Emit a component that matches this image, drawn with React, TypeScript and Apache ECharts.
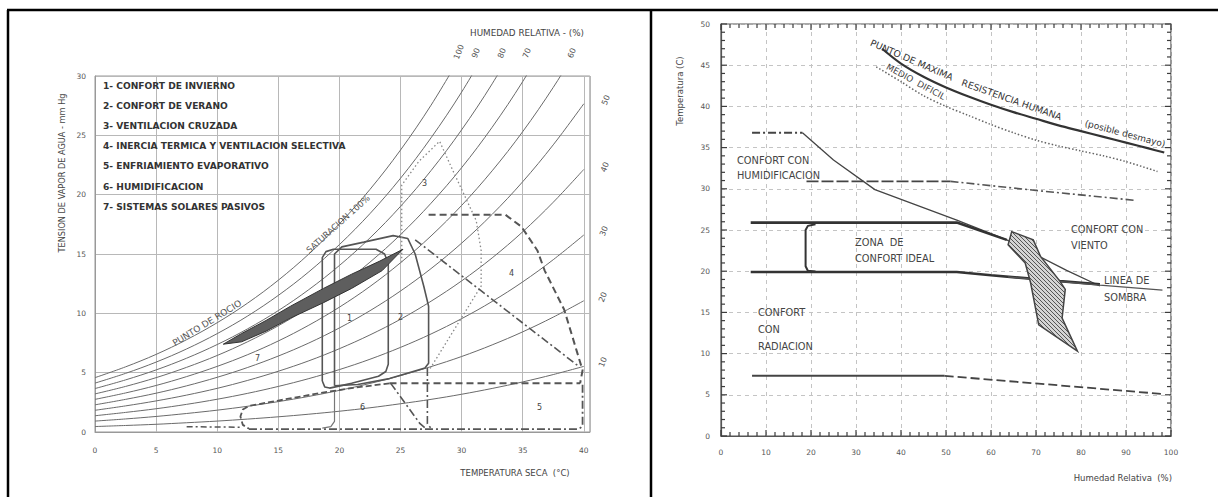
import React, { useEffect, useRef } from "react";
import * as echarts from "echarts";

// ---------- LEFT CHART DATA (psychrometric) ----------
const satTemps = [0, 2.5, 5, 7.5, 10, 12.5, 15, 17.5, 20, 22.5, 25, 27.5, 30, 32.5, 35, 37.5, 40];
const rh10 = [0.46, 0.55, 0.65, 0.78, 0.92, 1.09, 1.28, 1.5, 1.75, 2.04, 2.38, 2.75, 3.18, 3.67, 4.22, 4.84, 5.53];
const rh20 = [0.92, 1.1, 1.31, 1.56, 1.84, 2.17, 2.56, 3.0, 3.51, 4.09, 4.75, 5.51, 6.36, 7.34, 8.44, 9.68, 11.06];
const rh30 = [1.37, 1.65, 1.96, 2.33, 2.76, 3.26, 3.84, 4.5, 5.26, 6.13, 7.13, 8.26, 9.55, 11.0, 12.65, 14.52, 16.6];
const rh40 = [1.83, 2.2, 2.62, 3.11, 3.68, 4.35, 5.12, 6.0, 7.02, 8.18, 9.5, 11.02, 12.73, 14.67, 16.87, 19.36, 22.13];
const rh50 = [2.29, 2.75, 3.27, 3.89, 4.61, 5.44, 6.4, 7.5, 8.77, 10.22, 11.88, 13.77, 15.91, 18.34, 21.09, 24.2, 27.66];
const rh60 = [2.75, 3.29, 3.92, 4.67, 5.53, 6.52, 7.67, 9.0, 10.52, 12.26, 14.26, 16.52, 19.09, 22.01, 25.31, 29.04, 33.19];
const rh70 = [3.21, 3.84, 4.58, 5.45, 6.45, 7.61, 8.95, 10.5, 12.28, 14.31, 16.63, 19.28, 22.27, 25.68, 29.53, 33.88];
const rh80 = [3.66, 4.39, 5.23, 6.22, 7.37, 8.7, 10.23, 12.0, 14.03, 16.35, 19.01, 22.03, 25.46, 29.34, 33.74];
const rh90 = [4.12, 4.94, 5.89, 7.0, 8.29, 9.78, 11.51, 13.5, 15.79, 18.4, 21.38, 24.79, 28.64, 33.01];
const rh100 = [4.58, 5.49, 6.54, 7.78, 9.21, 10.87, 12.79, 15.0, 17.54, 20.44, 23.76, 27.54, 31.82];
const rhCurves = [rh10, rh20, rh30, rh40, rh50, rh60, rh70, rh80, rh90, rh100];

const topRhLabels = ["100", "90", "80", "70", "60"];
const sideRhLabels = ["50", "40", "30", "20", "10"];

const legendItems = [
  "1- CONFORT DE INVIERNO",
  "2- CONFORT DE VERANO",
  "3- VENTILACION CRUZADA",
  "4- INERCIA TERMICA Y VENTILACION SELECTIVA",
  "5- ENFRIAMIENTO EVAPORATIVO",
  "6- HUMIDIFICACION",
  "7- SISTEMAS SOLARES PASIVOS",
];

const zone1 = [[18.6, 4.3], [18.6, 14.7], [18.9, 15.2], [19.5, 15.4], [23.0, 15.4], [23.7, 15.0], [24.0, 14.2], [24.0, 5.7], [23.8, 5.1], [23.2, 4.7], [21.0, 4.1], [19.2, 3.7], [18.8, 3.8], [18.6, 4.3]];
const zone2 = [[19.6, 3.9], [19.6, 15.0], [20.2, 15.6], [22.0, 16.0], [24.4, 16.55], [25.6, 16.3], [26.2, 15.0], [26.9, 12.3], [27.3, 10.6], [27.3, 5.8], [27.0, 5.4], [24.1, 4.5], [21.5, 4.0], [19.6, 3.9]];
const zone3 = [[25.1, 14.3], [25.1, 20.8], [26.5, 22.8], [28.2, 24.5], [29.3, 22.0], [30.3, 19.8], [31.2, 17.8], [31.6, 15.3], [31.6, 12.3], [29.5, 8.8], [27.4, 5.3]];
const zone4Top = [[27.3, 18.3], [33.6, 18.3], [34.9, 17.3], [36.2, 15.3], [36.8, 13.6], [38.4, 10.3], [39.4, 6.9], [39.9, 5.2], [39.7, 4.1]];
const zone4Bottom = [[24.1, 4.1], [39.7, 4.1]];
const zone4Diagonal = [[26.2, 16.2], [39.5, 5.6]];
const zone5Bottom = [[12.6, 0.25], [39.6, 0.25], [39.9, 0.5], [39.9, 4.0]];
const zone5Left = [[24.2, 4.1], [26.6, 0.7], [27.0, 0.35]];
const zone5Vertical = [[27.2, 5.4], [27.2, 0.7], [27.5, 0.3]];
const zone6 = [[24.1, 4.1], [21.0, 3.7], [18.5, 3.3], [15.0, 2.65], [12.6, 2.2], [12.1, 1.9], [11.9, 1.3], [12.1, 0.6], [12.6, 0.28]];
const zone7 = [[19.6, 3.4], [19.6, 0.9], [19.3, 0.45], [18.6, 0.33]];
const zone7Short = [[7.5, 0.45], [12.0, 0.4]];
const leaf = [[10.5, 7.4], [12, 8.3], [14, 9.4], [16, 10.6], [18.7, 12.1], [21, 13.3], [23.3, 14.4], [25.2, 15.4], [23.5, 13.6], [21, 12.1], [18.7, 10.9], [16, 9.6], [14, 8.5], [12, 7.6], [10.5, 7.4]];

// ---------- RIGHT CHART DATA (bioclimatic) ----------
const maxResistance = [[35.8, 47], [40, 45.2], [45, 43.6], [50, 42.3], [55, 41.2], [60, 40.2], [65, 39.3], [70, 38.5], [75, 37.7], [80, 37], [85, 36.3], [90, 35.6], [95, 34.9], [98.5, 34.4]];
const medioDificil = [[34.5, 44.8], [40, 43], [45, 41.3], [50, 40], [55, 38.9], [60, 37.8], [65, 36.8], [70, 35.9], [75, 35.2], [80, 34.6], [85, 34], [90, 33.3], [97, 32.1]];
const line37 = [[6.9, 36.8], [18.1, 36.8]];
const diagonal = [[18.1, 36.8], [25, 33.5], [34.2, 29.9], [52.4, 26.2], [63.5, 23.8], [76.8, 20.1], [84.2, 18.2]];
const line31a = [[19, 30.9], [51, 30.9]];
const line31b = [[51, 30.9], [70, 29.8], [92, 28.6]];
const line26 = [[6.6, 25.9], [52.4, 25.9], [63.5, 23.8]];
const idealBox = [[21, 25.7], [19.3, 25.5], [18.8, 25.0], [18.8, 20.6], [19.3, 20.05], [21, 19.95]];
const line20 = [[6.6, 19.9], [52.4, 19.9], [60, 19.5], [75.3, 18.8], [84.2, 18.4]];
const sombra = [[63.8, 19.3], [84.2, 18.3], [98.1, 17.7]];
const line7a = [[6.9, 7.3], [49.7, 7.3]];
const line7b = [[49.7, 7.3], [98.1, 5.1]];
const hatched = [[64.6, 24.8], [69.4, 23.8], [71, 21.8], [75.3, 18.8], [76.5, 17.8], [75.8, 14.3], [79.2, 10.3], [70.6, 13.5], [68.8, 18.6], [67.6, 21], [63.8, 23.2], [64.6, 24.8]];

// frame tick positions of the right chart (minor ticks every 2 % and every 1 °C)
const rhTickValues = [0, 2, 4, 6, 8, 10, 12, 14, 16, 18, 20, 22, 24, 26, 28, 30, 32, 34, 36, 38, 40, 42, 44, 46, 48, 50, 52, 54, 56, 58, 60, 62, 64, 66, 68, 70, 72, 74, 76, 78, 80, 82, 84, 86, 88, 90, 92, 94, 96, 98, 100];
const tempTickValues = [0, 1, 2, 3, 4, 5, 6, 7, 8, 9, 10, 11, 12, 13, 14, 15, 16, 17, 18, 19, 20, 21, 22, 23, 24, 25, 26, 27, 28, 29, 30, 31, 32, 33, 34, 35, 36, 37, 38, 39, 40, 41, 42, 43, 44, 45, 46, 47, 48, 49, 50];

const FONT = "'DejaVu Sans', Verdana, sans-serif";

function ln(data: number[][], axis: number, color: string, width: number, type: any, extra: any = {}) {
  return {
    type: "line",
    data,
    xAxisIndex: axis,
    yAxisIndex: axis,
    symbol: "none",
    showSymbol: false,
    silent: true,
    z: 3,
    lineStyle: { color, width, type, cap: "butt" },
    ...extra,
  };
}

function poly(points: number[][], axis: number, style: any) {
  return {
    type: "custom",
    coordinateSystem: "cartesian2d",
    xAxisIndex: axis,
    yAxisIndex: axis,
    data: [[points[0][0], points[0][1]]],
    silent: true,
    z: 4,
    renderItem: (_p: any, api: any) => ({
      type: "polygon",
      shape: { points: points.map((pt) => api.coord(pt)) },
      style,
    }),
  };
}

function tickSeries(values: number[], horizontal: boolean, major: number) {
  return {
    type: "custom",
    coordinateSystem: "cartesian2d",
    xAxisIndex: 1,
    yAxisIndex: 1,
    data: values.map((v) => (horizontal ? [v, 0] : [0, v])),
    silent: true,
    clip: false,
    z: 6,
    renderItem: (params: any, api: any) => {
      const v = values[params.dataIndex];
      const len = v % major === 0 ? 6 : 4;
      const st = { fill: "#3c3c3c" };
      if (horizontal) {
        const a = api.coord([v, 0]);
        const b = api.coord([v, 50]);
        return {
          type: "group",
          children: [
            { type: "rect", shape: { x: a[0] - 0.6, y: a[1] - len, width: 1.2, height: len }, style: st },
            { type: "rect", shape: { x: b[0] - 0.6, y: b[1], width: 1.2, height: len }, style: st },
          ],
        };
      }
      const a = api.coord([0, v]);
      const b = api.coord([100, v]);
      return {
        type: "group",
        children: [
          { type: "rect", shape: { x: a[0], y: a[1] - 0.6, width: len, height: 1.2 }, style: st },
          { type: "rect", shape: { x: b[0] - len, y: b[1] - 0.6, width: len, height: 1.2 }, style: st },
        ],
      };
    },
  };
}

function txt(text: string, x: number, y: number, o: any = {}) {
  const { rotation, ...st } = o;
  return {
    type: "text",
    x,
    y,
    rotation: rotation || 0,
    z: 10,
    style: {
      text,
      fontFamily: FONT,
      fontSize: 8,
      fill: "#444",
      align: "left",
      verticalAlign: "middle",
      ...st,
    },
  };
}

export default function App() {
  const ref = useRef<HTMLDivElement>(null);
  useEffect(() => {
    document.body.style.margin = "0";
    const chart = echarts.init(ref.current!, null, { renderer: "svg" });

    const c = document.createElement("canvas");
    c.width = 4;
    c.height = 4;
    const ctx = c.getContext("2d")!;
    ctx.fillStyle = "#d4d4d4";
    ctx.fillRect(0, 0, 4, 4);
    ctx.strokeStyle = "#555";
    ctx.lineWidth = 1;
    ctx.beginPath();
    ctx.moveTo(0, 0);
    ctx.lineTo(4, 4);
    ctx.stroke();
    const hatchFill: any = { image: c, repeat: "repeat", imageWidth: 4, imageHeight: 4 };

    const series: any[] = [];
    rhCurves.forEach((arr) => {
      series.push(
        ln(arr.map((v, i) => [satTemps[i], v]), 0, "#6a6a6a", 1, "solid", { smooth: 0.35, z: 2 })
      );
    });
    series.push(poly(leaf, 0, { fill: "#5e5e5e", stroke: "#333", lineWidth: 1 }));
    series.push(ln(zone1, 0, "#555", 1.6, "solid"));
    series.push(ln(zone2, 0, "#555", 1.6, "solid"));
    series.push(ln(zone3, 0, "#888", 1.3, [1.5, 2.5]));
    series.push(ln(zone4Top, 0, "#555", 2, [7, 4]));
    series.push(ln(zone4Bottom, 0, "#555", 2, [7, 4]));
    series.push(ln(zone4Diagonal, 0, "#555", 1.6, [8, 3, 2, 3]));
    series.push(ln(zone5Bottom, 0, "#555", 1.8, [8, 3, 2, 3]));
    series.push(ln(zone5Left, 0, "#555", 1.6, [8, 3, 2, 3]));
    series.push(ln(zone5Vertical, 0, "#555", 1.6, [8, 3, 2, 3]));
    series.push(ln(zone6, 0, "#555", 1.8, [6, 3]));
    series.push(ln(zone7, 0, "#777", 1.2, "solid"));
    series.push(ln(zone7Short, 0, "#555", 1.5, [6, 3, 2, 3]));

    series.push(ln(maxResistance, 1, "#333", 2.2, "solid", { smooth: 0.3 }));
    series.push(ln(medioDificil, 1, "#666", 1.5, [1.5, 2], { smooth: 0.3 }));
    series.push(ln(line37, 1, "#444", 1.8, [8, 3, 2, 3]));
    series.push(ln(diagonal, 1, "#444", 1.3, "solid"));
    series.push(ln(line31a, 1, "#444", 1.8, [12, 3]));
    series.push(ln(line31b, 1, "#555", 1.6, [8, 3, 2, 3]));
    series.push(ln(line26, 1, "#333", 2.6, "solid"));
    series.push(ln(idealBox, 1, "#333", 2, "solid"));
    series.push(ln(line20, 1, "#333", 2.6, "solid"));
    series.push(ln(sombra, 1, "#555", 1.2, "solid"));
    series.push(ln(line7a, 1, "#444", 2, "solid"));
    series.push(ln(line7b, 1, "#444", 1.8, [9, 4]));
    series.push(poly(hatched, 1, { fill: hatchFill, stroke: "#444", lineWidth: 1.5 }));
    series.push(tickSeries(rhTickValues, true, 10));
    series.push(tickSeries(tempTickValues, false, 5));

    const labelStyle = { fontFamily: FONT, fontSize: 7.5, color: "#555" };

    const graphic: any[] = [
      // table frame
      { type: "line", shape: { x1: 7, y1: 10, x2: 1218, y2: 10 }, style: { stroke: "#000", lineWidth: 2.5 }, z: 20 },
      { type: "line", shape: { x1: 8, y1: 10, x2: 8, y2: 497 }, style: { stroke: "#000", lineWidth: 2.5 }, z: 20 },
      { type: "line", shape: { x1: 651, y1: 10, x2: 651, y2: 497 }, style: { stroke: "#000", lineWidth: 2.5 }, z: 20 },
      // left chart texts
      txt("TENSION DE VAPOR DE AGUA - mm Hg", 62, 173, { rotation: Math.PI / 2, align: "center", fontSize: 8.2 }),
      txt("TEMPERATURA SECA  (°C)", 515, 473, { align: "center", fontSize: 8.5 }),
      txt("HUMEDAD RELATIVA - (%)", 527, 33, { align: "center", fontSize: 8.8 }),
      txt("SATURACION 100%", 338, 224, { rotation: 0.73, align: "center", fontSize: 8.5, fill: "#555" }),
      txt("PUNTO DE ROCIO", 207, 323, { rotation: 0.55, align: "center", fontSize: 9, fill: "#555" }),
      txt("1", 347, 318), txt("2", 398, 317), txt("3", 422, 183), txt("4", 509, 273),
      txt("5", 537, 407), txt("6", 360, 407), txt("7", 255, 358),
      // right chart texts
      txt("Temperatura (C)", 680, 91, { rotation: Math.PI / 2, align: "center", fontSize: 8.5 }),
      txt("Humedad Relativa  (%)", 1172, 478, { align: "right", fontSize: 8.5 }),
      txt("PUNTO DE MAXIMA", 871, 42, { rotation: -0.41, fontSize: 9.3, fill: "#333" }),
      txt("RESISTENCIA HUMANA", 962, 82, { rotation: -0.34, fontSize: 9.3, fill: "#333" }),
      txt("(posible desmayo)", 1085, 123, { rotation: -0.26, fontSize: 9, fill: "#333" }),
      txt("MEDIO  DIFICIL", 887, 66, { rotation: -0.5, fontSize: 8.8, fill: "#444" }),
      txt("CONFORT CON", 737, 160, { fontSize: 9.8 }),
      txt("HUMIDIFICACION", 737, 175, { fontSize: 9.8 }),
      txt("ZONA  DE", 855, 242, { fontSize: 9.8 }),
      txt("CONFORT IDEAL", 855, 258, { fontSize: 9.8 }),
      txt("CONFORT CON", 1071, 229, { fontSize: 9.8 }),
      txt("VIENTO", 1071, 245, { fontSize: 9.8 }),
      txt("LINEA DE", 1104, 280, { fontSize: 9.8 }),
      txt("SOMBRA", 1104, 297, { fontSize: 9.8 }),
      txt("CONFORT", 758, 312, { fontSize: 9.8 }),
      txt("CON", 758, 329, { fontSize: 9.8 }),
      txt("RADIACION", 758, 346, { fontSize: 9.8 }),
    ];
    const topPos = [[459, 52], [476, 53], [502, 53], [527, 53], [572, 53]];
    topRhLabels.forEach((t, i) => graphic.push(txt(t, topPos[i][0], topPos[i][1], { rotation: 1.2, align: "center", fontSize: 8, fill: "#555" })));
    const sidePos = [[606, 100], [605, 167], [604, 231], [603, 297], [603, 362]];
    sideRhLabels.forEach((t, i) => graphic.push(txt(t, sidePos[i][0], sidePos[i][1], { rotation: 1.2, align: "center", fontSize: 8, fill: "#555" })));
    legendItems.forEach((t, i) => graphic.push(txt(t, 103, 86 + i * 20.1, { fontWeight: "bold", fontSize: 9.1, fill: "#333" })));

    const option: any = {
      animation: false,
      backgroundColor: "#fff",
      grid: [
        { left: 95, top: 76, width: 494.9, height: 356, show: true, borderColor: "#999", borderWidth: 1, outerBoundsMode: "none" },
        { left: 721, top: 24, width: 450, height: 412, show: true, borderColor: "#555", borderWidth: 1.2, outerBoundsMode: "none" },
      ],
      xAxis: [
        {
          type: "value", gridIndex: 0, min: 0, max: 40.5, interval: 5,
          axisLine: { show: true, onZero: false, lineStyle: { color: "#999" } },
          axisTick: { show: false },
          axisLabel: { ...labelStyle, margin: 14, showMaxLabel: false, formatter: (v: number) => (v % 5 === 0 ? String(v) : "") },
          splitLine: { show: true, lineStyle: { color: "#b8b8b8", width: 1 } },
        },
        {
          type: "value", gridIndex: 1, min: 0, max: 100, interval: 10,
          axisLine: { show: true, onZero: false, lineStyle: { color: "#555", width: 1.2 } },
          axisTick: { show: false },
          axisLabel: { ...labelStyle, margin: 12 },
          splitLine: { show: true, lineStyle: { color: "#c4c4c4", type: [4, 4] } },
        },
      ],
      yAxis: [
        {
          type: "value", gridIndex: 0, min: 0, max: 30, interval: 5,
          axisLine: { show: true, onZero: false, lineStyle: { color: "#999" } },
          axisTick: { show: false },
          axisLabel: { ...labelStyle, margin: 9 },
          splitLine: { show: true, lineStyle: { color: "#b8b8b8", width: 1 } },
        },
        {
          type: "value", gridIndex: 1, min: 0, max: 50, interval: 5,
          axisLine: { show: true, onZero: false, lineStyle: { color: "#555", width: 1.2 } },
          axisTick: { show: false },
          axisLabel: { ...labelStyle, margin: 11 },
          splitLine: { show: true, lineStyle: { color: "#c4c4c4", type: [4, 4] } },
        },
      ],
      series,
      graphic,
    };
    chart.setOption(option);
    return () => chart.dispose();
  }, []);
  return <div ref={ref} style={{ width: 1218, height: 497, background: "#fff" }} />;
}
